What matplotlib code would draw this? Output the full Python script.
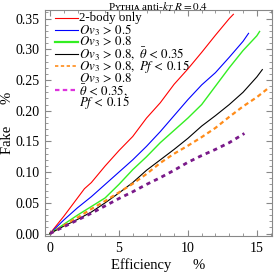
import numpy as np
import matplotlib
matplotlib.use('Agg')
import matplotlib.pyplot as plt
from matplotlib.lines import Line2D
from matplotlib.ticker import MultipleLocator

plt.rcParams['font.family'] = ['Liberation Serif', 'DejaVu Serif']
plt.rcParams['mathtext.fontset'] = 'stix'

# data (efficiency %, fake %)
x_red = [0, 1, 2, 2.5, 3, 4, 5, 6, 7, 8, 9, 10, 11, 12, 13, 13.3]
y_red = [0, 0.028, 0.058, 0.073, 0.083, 0.110, 0.135, 0.158, 0.188, 0.213, 0.243, 0.268, 0.295, 0.323, 0.350, 0.357]

x_blue = [0, 1, 2, 3, 4, 5, 6, 7, 8, 9, 10, 11, 12, 13, 14, 14.4]
y_blue = [0, 0.022, 0.042, 0.060, 0.080, 0.100, 0.120, 0.142, 0.166, 0.192, 0.218, 0.242, 0.262, 0.287, 0.313, 0.326]

x_green = [0, 1, 2, 3, 4, 5, 6, 7, 8, 9, 10, 11, 12, 13, 14, 15, 15.2]
y_green = [0, 0.015, 0.030, 0.044, 0.058, 0.080, 0.104, 0.125, 0.148, 0.168, 0.188, 0.210, 0.240, 0.270, 0.298, 0.322, 0.329]

x_black = [0, 1, 2, 3, 4, 5, 6, 7, 8, 9, 10, 11, 12, 13, 14, 15, 15.4]
y_black = [0, 0.012, 0.023, 0.035, 0.050, 0.066, 0.083, 0.103, 0.120, 0.137, 0.155, 0.175, 0.192, 0.210, 0.230, 0.255, 0.267]

x_orange = [0, 1, 2, 3, 4, 5, 6, 7, 8, 9, 10, 11, 12, 13, 14, 15, 15.9]
y_orange = [0, 0.013, 0.026, 0.040, 0.053, 0.067, 0.081, 0.097, 0.115, 0.130, 0.143, 0.157, 0.172, 0.190, 0.207, 0.222, 0.238]

x_purple = [0, 1, 2, 3, 4, 5, 6, 7, 8, 9, 10, 11, 12, 13, 14.1]
y_purple = [0, 0.011, 0.022, 0.033, 0.045, 0.057, 0.068, 0.080, 0.091, 0.103, 0.116, 0.127, 0.137, 0.148, 0.163]

# legend rows (one text per row); the last entry spans three rows
legend_rows = ['2-body only',
               r'$Ov_3\,>\,0.5$',
               r'$Ov_3\,>\,0.8$',
               r'$Ov_3\,>\,0.8,\ \bar{\theta}\,<\,0.35$',
               r'$Ov_3\,>\,0.8,\ Pf\,<\,0.15$',
               r'$Ov_3\,>\,0.8$',
               r'$\bar{\theta}\,<\,0.35,$',
               r'$Pf\,<\,0.15$']
handle_rows = [0, 1, 2, 3, 4, 6]

fig = plt.figure(figsize=(2.74, 2.76), dpi=100)
ax = fig.add_axes([45/274, 40/276, 227/274, 226/276])

ax.plot(x_red, y_red, color='#ff0000', lw=0.8)
ax.plot(x_blue, y_blue, color='#0000ff', lw=0.8)
ax.plot(x_green, y_green, color='#33ee22', lw=1.0)
ax.plot(x_black, y_black, color='black', lw=0.8)
ax.plot(x_orange, y_orange, color='#ff8c1a', lw=1.6, ls=(0, (2, 1.5)))
ax.plot(x_purple, y_purple, color='#7a1a8a', lw=2.0, ls=(0, (1.5, 1.5)))

handles = [dict(color='#ff0000', lw=0.8),
           dict(color='#0000ff', lw=0.8),
           dict(color='#33ee22', lw=1.6),
           dict(color='black', lw=0.8),
           dict(color='#ff8c1a', lw=1.2, ls=(0, (2, 1.5))),
           dict(color='#dd33dd', lw=1.6, ls=(0, (2, 1.5)))]

# hand-built legend: fixed row pitch like the original
top, pitch = 1 - 7.5 / 226, 12.15 / 226
x0, x1, xt = 10 / 227, 33 / 227, 34 / 227
for i, txt in enumerate(legend_rows):
    ax.text(xt, top - i * pitch, txt, transform=ax.transAxes, fontsize=9.3,
            ha='left', va='center')
for r, st in zip(handle_rows, handles):
    yy = top - r * pitch
    ax.add_line(Line2D([x0, x1], [yy, yy], transform=ax.transAxes, **st))

ax.set_xlim(-0.36, 16.1)
ax.set_ylim(-0.004, 0.364)
ax.xaxis.set_major_locator(MultipleLocator(5))
ax.xaxis.set_minor_locator(MultipleLocator(1))
ax.yaxis.set_major_locator(MultipleLocator(0.05))
ax.yaxis.set_minor_locator(MultipleLocator(0.01))
ax.yaxis.set_major_formatter(plt.FormatStrFormatter('%.2f'))
ax.tick_params(which='both', direction='in', top=True, right=True,
               color='#888888', labelsize=10, pad=4)
ax.tick_params(which='major', length=4)
ax.tick_params(which='minor', length=2)
for s in ax.spines.values():
    s.set_color('#888888')
    s.set_linewidth(0.8)

fig.text(158/274, 1 - 0.5/276, 'Pʏᴛʜɪᴀ anti-$k_T$ $R = 0.4$', fontsize=8,
         ha='center', va='top')
ax.set_xlabel('Efficiency      %', fontsize=10.5)
ax.set_ylabel('Fake      %', fontsize=10.5)
ax.xaxis.set_label_coords(0.5, -0.1)
ax.yaxis.set_label_coords(-0.135, 0.5)

fig.savefig('out.png', dpi=100)
